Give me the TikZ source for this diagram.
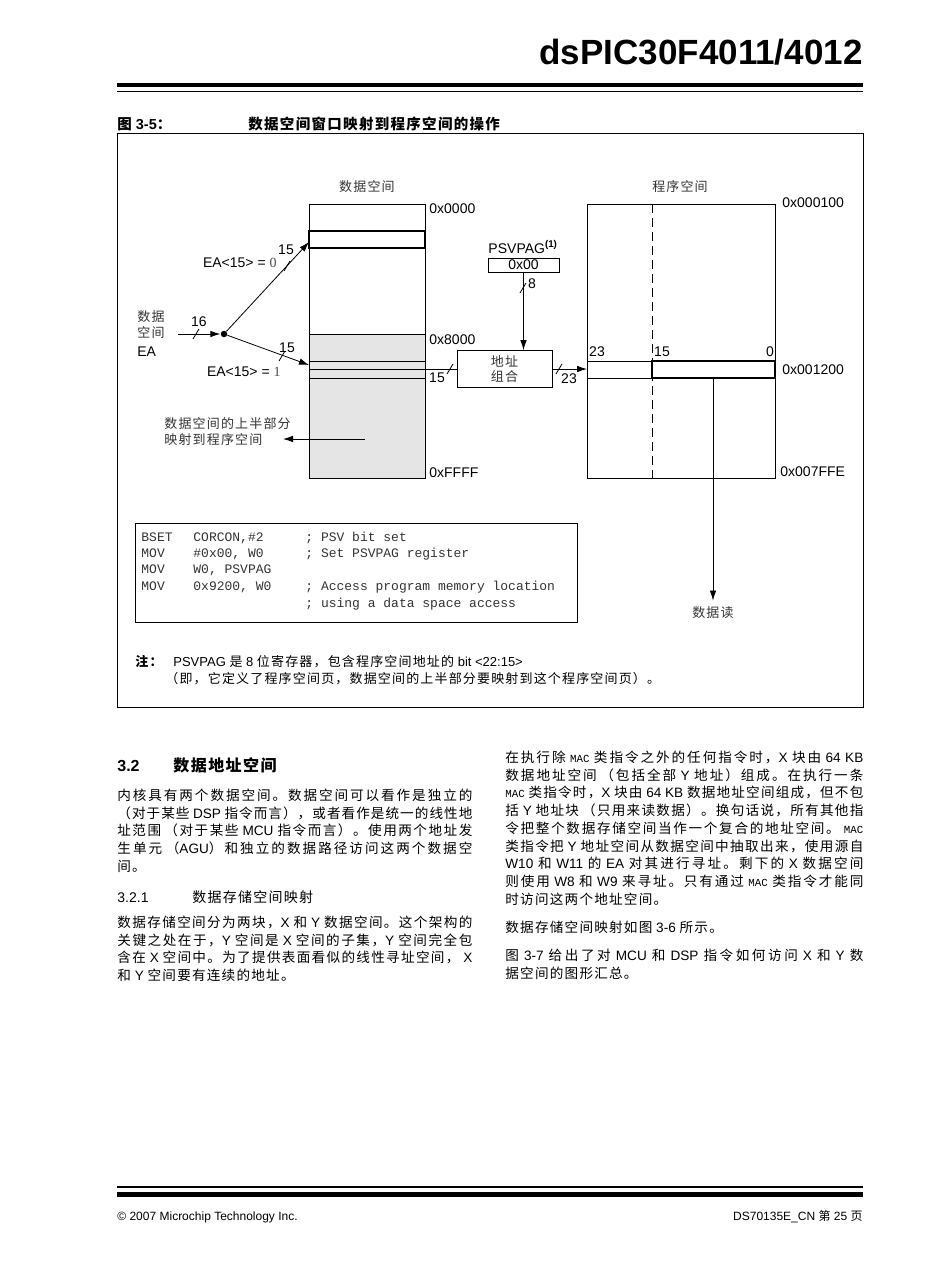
\documentclass[tikz,border=0pt]{standalone}
\usepackage{fontspec}
\setmainfont{Liberation Sans}
\setmonofont{Liberation Mono}
\newfontfamily\cjk{Noto Sans CJK SC}
\newfontfamily\serifrm{Liberation Serif}
\usetikzlibrary{arrows.meta}

% tracking and stretchable glue between CJK characters, for justified lines
\chardef\cjkclass=7
\newcount\cjkcode
\cjkcode="3000 \loop \XeTeXcharclass\cjkcode=\cjkclass \advance\cjkcode 1 \ifnum\cjkcode<"3040 \repeat
\cjkcode="4E00 \loop \XeTeXcharclass\cjkcode=\cjkclass \advance\cjkcode 1 \ifnum\cjkcode<"A000 \repeat
\cjkcode="FF00 \loop \XeTeXcharclass\cjkcode=\cjkclass \advance\cjkcode 1 \ifnum\cjkcode<"FFF0 \repeat
\XeTeXinterchartoks\cjkclass\cjkclass={\hskip 0.09em plus 2pt minus 0.8pt\relax}
\XeTeXinterchartokenstate=1

\newcommand\zh[1]{{\cjk #1}}
\newcommand\mac{{\fontsize{10.8}{10.8}\selectfont\ttfamily MAC}}
\newcommand\fullline[2]{\makebox[#1][s]{#2}}
\newcommand\bustick[1]{\draw (#1) +(-3,5) -- +(3,-5);}

\tikzset{
  >={Latex[length=10pt,width=6.5pt]},
  lbl/.style={inner sep=0pt, font=\fontsize{14}{16}\selectfont},
  hexlbl/.style={lbl, anchor=west},
  cnlbl/.style={inner sep=0pt, text=black!80, font=\fontsize{13}{15.5}\selectfont\cjk},
  winbox/.style={draw, line width=2.6pt},
  upperhalf/.style={fill=black!10},
  codeline/.style={inner sep=0pt, anchor=base west, text=black!80, font=\fontsize{13}{13}\selectfont\ttfamily},
  bodytxt/.style={inner sep=0pt, anchor=base west, font=\fontsize{13.6}{13.6}\selectfont},
  notetxt/.style={inner sep=0pt, anchor=base west, font=\fontsize{13}{13}\selectfont},
}

\begin{document}
\begin{tikzpicture}[x=1pt, y=-1pt, line width=0.8pt]
        \useasboundingbox (0,0) rectangle (952,1267);

        % Page header
        \node[anchor=base east, inner sep=0pt, font=\fontsize{35}{35}\selectfont\bfseries] (doctitle) at (863,64) {dsPIC30F4011/4012};
        \draw[line width=4.5pt] (117,85) -- (863,85);
        \draw[line width=1.5pt] (117,91.5) -- (863,91.5);

        % Figure caption and frame
        \node[anchor=base west, inner sep=0pt, font=\fontsize{14.5}{14.5}\selectfont\bfseries] (figno) at (117,129) {\zh{图} 3-5\zh{：}};
        \node[anchor=base west, inner sep=0pt, font=\fontsize{14.5}{14.5}\selectfont\bfseries] (figtitle) at (248,129) {\zh{数据空间窗口映射到程序空间的操作}};
        \draw (117,133) rectangle (863,707);

        % Data space
        \node[cnlbl] (dlabel) at (367,187) {数据空间};
        \fill[upperhalf] (309,334) rectangle (425,478);
        \draw (309,204) rectangle (425,478);
        \draw (309,334) -- (425,334);
        \draw (309,361) -- (425,361);
        \draw (309,378) -- (425,378);
        \draw[winbox] (309,231) rectangle (425,248);
        \node[hexlbl] (d0000) at (429,209) {0x0000};
        \node[hexlbl] (d8000) at (429,340) {0x8000};
        \node[hexlbl] (dffff) at (429,473) {0xFFFF};
        \coordinate (ea0in) at (309,242);
        \coordinate (ea1in) at (309,365);
        \coordinate (row15) at (309,369);

        % Data space EA input
        \node[cnlbl, anchor=west, align=left, font=\fontsize{13}{16}\selectfont\cjk] (ealabel) at (137,325) {数据\\空间};
        \node[lbl, anchor=west] (ealabelb) at (137,352) {EA};
        \coordinate (eain) at (178,334);
        \node[circle, fill, inner sep=0pt, minimum size=6.5] (split) at (224,334) {};
        \draw[->] (eain) -- (split);
        \bustick{196,334}
        \node[lbl] (n16) at (199,322) {16};

        % EA<15> = 0 branch
        \draw[->] (split) -- (ea0in);
        \bustick{287,266}
        \node[lbl] (n15a) at (286,250) {15};
        \node[lbl, anchor=east] (ea0) at (277,263) {EA<15> = {\serifrm\color{black!70}0}};

        % EA<15> = 1 branch
        \draw[->] (split) -- (ea1in);
        \bustick{282,356}
        \node[lbl] (n15b) at (287,348) {15};
        \node[lbl, anchor=east] (ea1) at (281,372) {EA<15> = {\serifrm\color{black!70}1}};

        % Upper half note
        \node[cnlbl, anchor=west, align=left, font=\fontsize{13}{16}\selectfont\cjk] (uphalf) at (164,432) {数据空间的上半部分\\映射到程序空间};
        \coordinate (uphalfsrc) at (365,439);
        \coordinate (uphalftip) at (283,439);
        \draw[->] (uphalfsrc) -- (uphalftip);

        % PSVPAG register
        \node[lbl] (psvlbl) at (523,247) {PSVPAG\textsuperscript{\bfseries(1)}};
        \node[draw, lbl, minimum width=71, minimum height=14] (psvpag) at (523.5,265) {0x00};

        % Address concatenation
        \node[draw, cnlbl, align=center, minimum width=95, minimum height=37] (addrcat) at (504.5,369) {地址\\组合};
        \draw[->] (psvpag.south) -- (psvpag.south |- addrcat.north);
        \bustick{523,288}
        \node[lbl] (n8) at (532,284) {8};
        \draw (row15) -- (addrcat.west);
        \bustick{450,369}
        \node[lbl] (n15c) at (437,378) {15};

        % Program space
        \node[cnlbl] (plabel) at (680,187) {程序空间};
        \draw (587,204) rectangle (775,478);
        \draw[dash pattern=on 9pt off 5pt] (652,204) -- (652,478);
        \draw (587,361) -- (775,361);
        \draw (587,378) -- (652,378);
        \draw[winbox] (652,361) rectangle (775,378);
        \node[lbl] (b23) at (597,352) {23};
        \node[lbl] (b15) at (662,352) {15};
        \node[lbl] (b0) at (770,352) {0};
        \node[hexlbl] (p0100) at (782,203) {0x000100};
        \node[hexlbl] (p1200) at (782,370) {0x001200};
        \node[hexlbl] (p7ffe) at (780,472) {0x007FFE};
        \coordinate (pin) at (587,369);
        \draw[->] (addrcat.east) -- (pin);
        \bustick{559,369}
        \node[lbl] (n23) at (569,379) {23};

        % Data read
        \coordinate (pwinout) at (713,378);
        \node[cnlbl] (dread) at (713,613) {数据读};
        \draw[->, shorten >=6pt] (pwinout) -- (dread);

        % Code listing
        \draw (135,523) rectangle (577,622);
        \node[codeline] (c1a) at (141,541) {BSET};
        \node[codeline] (c1b) at (193,541) {CORCON,\#2};
        \node[codeline] (c1c) at (305,541) {; PSV bit set};
        \node[codeline] (c2a) at (141,557) {MOV};
        \node[codeline] (c2b) at (193,557) {\#0x00, W0};
        \node[codeline] (c2c) at (305,557) {; Set PSVPAG register};
        \node[codeline] (c3a) at (141,573) {MOV};
        \node[codeline] (c3b) at (193,573) {W0, PSVPAG};
        \node[codeline] (c4a) at (141,590) {MOV};
        \node[codeline] (c4b) at (193,590) {0x9200, W0};
        \node[codeline] (c4c) at (305,590) {; Access program memory location};
        \node[codeline] (c5c) at (305,607) {; using a data space access};

        % Note
        \node[notetxt, font=\fontsize{13}{13}\selectfont\bfseries] (notehead) at (135,666) {\zh{注：}};
        \node[notetxt] (note1) at (173,666) {PSVPAG \zh{是} 8 \zh{位寄存器，包含程序空间地址的} bit <22:15>};
        \node[notetxt] (note2) at (165,683) {\zh{（即，它定义了程序空间页，数据空间的上半部分要映射到这个程序空间页）。}};

        % Section 3.2 (left column)
        \node[bodytxt, font=\fontsize{16}{16}\selectfont\bfseries] (sec) at (117,771) {3.2};
        \node[bodytxt, font=\fontsize{16}{16}\selectfont\bfseries] (sectitle) at (173,771) {\zh{数据地址空间}};
        \node[bodytxt] (l1) at (117,800) {\fullline{355pt}{\zh{内核具有两个数据空间。数据空间可以看作是独立的}}};
        \node[bodytxt] (l2) at (117,818) {\fullline{355pt}{\zh{（对于某些} DSP \zh{指令而言），或者看作是统一的线性地}}};
        \node[bodytxt] (l3) at (117,835) {\fullline{355pt}{\zh{址范围 （对于某些} MCU \zh{指令而言）。使用两个地址发}}};
        \node[bodytxt] (l4) at (117,853) {\fullline{355pt}{\zh{生单元 （}AGU\zh{）和独立的数据路径访问这两个数据空}}};
        \node[bodytxt] (l5) at (117,871) {\zh{间。}};
        \node[bodytxt, font=\fontsize{14}{14}\selectfont] (subsec) at (117,902) {3.2.1};
        \node[bodytxt, font=\fontsize{14}{14}\selectfont] (subsectitle) at (192,902) {\zh{数据存储空间映射}};
        \node[bodytxt] (l6) at (117,927) {\fullline{355pt}{\zh{数据存储空间分为两块，}X \zh{和} Y \zh{数据空间。这个架构的}}};
        \node[bodytxt] (l7) at (117,945) {\fullline{355pt}{\zh{关键之处在于，}Y \zh{空间是} X \zh{空间的子集，}Y \zh{空间完全包}}};
        \node[bodytxt] (l8) at (117,962) {\fullline{355pt}{\zh{含在} X \zh{空间中。为了提供表面看似的线性寻址空间，} X}};
        \node[bodytxt] (l9) at (117,980) {\zh{和} Y \zh{空间要有连续的地址。}};

        % Right column
        \node[bodytxt] (r1) at (505,762) {\fullline{358pt}{\zh{在执行除} \mac{} \zh{类指令之外的任何指令时，}X \zh{块由} 64 KB}};
        \node[bodytxt] (r2) at (505,780) {\fullline{358pt}{\zh{数据地址空间 （包括全部} Y \zh{地址）组成。在执行一条}}};
        \node[bodytxt] (r3) at (505,797) {\fullline{358pt}{\mac{} \zh{类指令时，}X \zh{块由} 64 KB \zh{数据地址空间组成，但不包}}};
        \node[bodytxt] (r4) at (505,815) {\fullline{358pt}{\zh{括} Y \zh{地址块 （只用来读数据）。换句话说，所有其他指}}};
        \node[bodytxt] (r5) at (505,833) {\fullline{358pt}{\zh{令把整个数据存储空间当作一个复合的地址空间。} \mac}};
        \node[bodytxt] (r6) at (505,851) {\fullline{358pt}{\zh{类指令把} Y \zh{地址空间从数据空间中抽取出来，使用源自}}};
        \node[bodytxt] (r7) at (505,868) {\fullline{358pt}{W10 \zh{和} W11 \zh{的} EA \zh{对其进行寻址。剩下的} X \zh{数据空间}}};
        \node[bodytxt] (r8) at (505,886) {\fullline{358pt}{\zh{则使用} W8 \zh{和} W9 \zh{来寻址。只有通过} \mac{} \zh{类指令才能同}}};
        \node[bodytxt] (r9) at (505,904) {\zh{时访问这两个地址空间。}};
        \node[bodytxt] (r10) at (505,932) {\zh{数据存储空间映射如图} 3-6 \zh{所示。}};
        \node[bodytxt] (r11) at (505,960) {\fullline{358pt}{\zh{图} 3-7 \zh{给出了对} MCU \zh{和} DSP \zh{指令如何访问} X \zh{和} Y \zh{数}}};
        \node[bodytxt] (r12) at (505,978) {\zh{据空间的图形汇总。}};

        % Page footer
        \draw[line width=1.5pt] (117,1187) -- (863,1187);
        \draw[line width=5pt] (117,1194) -- (863,1194);
        \node[bodytxt, font=\fontsize{12}{12}\selectfont] (copyright) at (117,1220) {© 2007 Microchip Technology Inc.};
        \node[bodytxt, anchor=base east, font=\fontsize{12}{12}\selectfont] (pageno) at (863,1220) {DS70135E\_CN \zh{第} 25 \zh{页}};
    \end{tikzpicture}
\end{document}
